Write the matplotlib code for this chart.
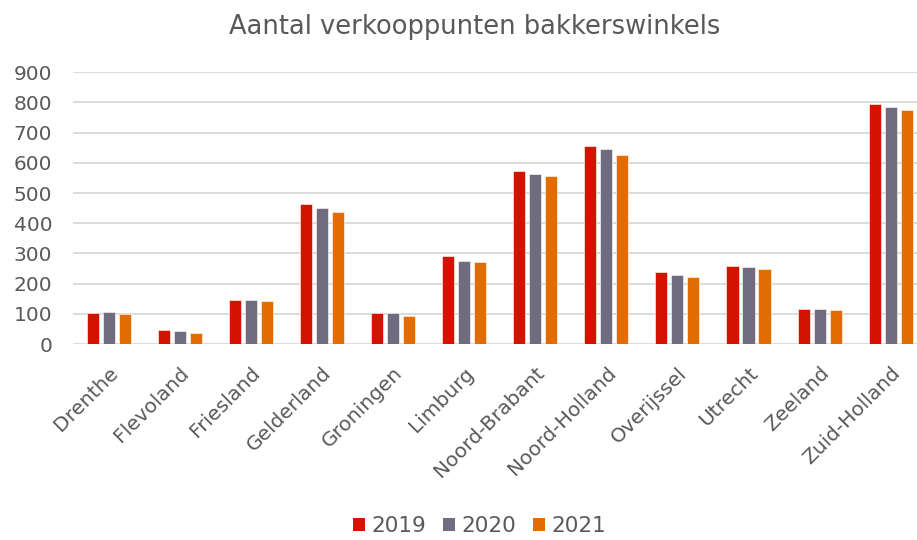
import numpy as np
from matplotlib import pyplot as plt
from matplotlib.patches import Patch

provinces = ['Drenthe', 'Flevoland', 'Friesland', 'Gelderland', 'Groningen', 'Limburg',
             'Noord-Brabant', 'Noord-Holland', 'Overijssel', 'Utrecht', 'Zeeland', 'Zuid-Holland']
years = ['2019', '2020', '2021']
v2019 = [104, 45, 146, 465, 103, 290, 572, 655, 237, 260, 117, 796]
v2020 = [105, 42, 146, 449, 102, 274, 562, 645, 230, 255, 116, 785]
v2021 = [99, 38, 142, 437, 93, 270, 558, 626, 222, 248, 111, 775]
colors = ['#D41200', '#6E6C7E', '#E36C00']

text_col = '#595959'
plt.rcParams['font.family'] = ['DejaVu Sans']

fig = plt.figure(figsize=(9.17, 5.4), dpi=100)
ax = fig.add_axes([73 / 917, 196 / 540, (917 - 73) / 917, (344 - 72.3) / 540])

x = np.arange(len(provinces))
w = 0.17
step = 0.225
for i, (vals, c) in enumerate(zip([v2019, v2020, v2021], colors)):
    ax.bar(x + (i - 1) * step, vals, width=w, color=c, edgecolor='white', linewidth=0.4,
           zorder=3, label=years[i])

ax.set_xlim(-0.5, 11.37)
ax.set_ylim(0, 900)
ax.set_yticks(range(0, 901, 100))
ax.grid(axis='y', color='#D9D9D9', linewidth=1.3, zorder=0)
for s in ax.spines.values():
    s.set_visible(False)
ax.tick_params(axis='both', length=0, labelsize=14.5, labelcolor=text_col)
ax.tick_params(axis='y', pad=15)
ax.set_xticks(x)
ax.set_xticklabels(provinces, rotation=45, ha='right', rotation_mode='anchor')
ax.tick_params(axis='x', pad=14)

fig.text(0.518, 0.95, 'Aantal verkooppunten bakkerswinkels', ha='center', va='center',
         fontsize=18.5, color=text_col)

handles = [Patch(facecolor=c, label=y) for c, y in zip(colors, years)]
fig.legend(handles=handles, loc='center', bbox_to_anchor=(0.523, 0.025), ncol=3, frameon=False,
           fontsize=15.5, labelcolor=text_col, handlelength=0.55, handleheight=0.55,
           handletextpad=0.3, columnspacing=0.8)

fig.savefig('out.png', dpi=100)
